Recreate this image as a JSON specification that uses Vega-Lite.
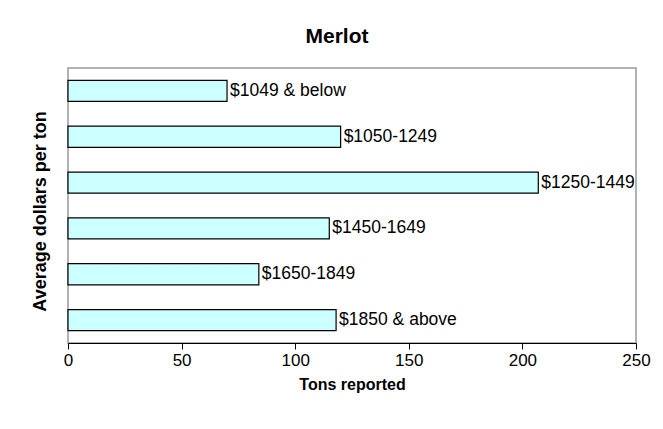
{
  "$schema": "https://vega.github.io/schema/vega-lite/v6.json",
  "width": 568,
  "height": 275,
  "autosize": {"type": "none"},
  "padding": {"left": 68, "top": 68, "right": 27, "bottom": 86},
  "background": "white",
  "title": {"text": "Merlot", "font": "Liberation Sans", "fontSize": 21, "fontWeight": "bold", "color": "black", "anchor": "middle", "dx": -15, "dy": 20, "offset": 20, "baseline": "bottom"},
  "data": {"values": [
    {"price": "$1049 & below", "tons": 70},
    {"price": "$1050-1249", "tons": 120},
    {"price": "$1250-1449", "tons": 207},
    {"price": "$1450-1649", "tons": 115},
    {"price": "$1650-1849", "tons": 84},
    {"price": "$1850 & above", "tons": 118}
  ]},
  "encoding": {
    "y": {"field": "price", "type": "nominal", "sort": null,
      "scale": {"paddingInner": 0.54, "paddingOuter": 0.27},
      "axis": {"title": "Average dollars per ton", "labels": false, "ticks": false, "domain": false, "titleY": 143,
        "titleFont": "Liberation Sans", "titleFontSize": 18, "titleFontWeight": "bold", "titleColor": "black", "titlePadding": 19}},
    "x": {"field": "tons", "type": "quantitative", "scale": {"domain": [0, 250]},
      "axis": {"values": [0, 50, 100, 150, 200, 250], "grid": false, "title": "Tons reported",
        "tickSize": 6, "tickColor": "black", "domainColor": "black",
        "labelFont": "Liberation Sans", "labelFontSize": 17, "labelColor": "black", "labelPadding": 3, "labelFlush": false,
        "titleFont": "Liberation Sans", "titleFontSize": 16, "titleFontWeight": "bold", "titleColor": "black", "titlePadding": 8}}
  },
  "layer": [
    {"mark": {"type": "bar", "fill": "#CCFFFF", "stroke": "black", "strokeWidth": 1.2}},
    {"mark": {"type": "text", "align": "left", "baseline": "middle", "dx": 3, "font": "Liberation Sans", "fontSize": 17.5, "color": "black"},
     "encoding": {"text": {"field": "price"}}}
  ],
  "config": {"view": {"stroke": "#999999", "strokeWidth": 1.5}}
}
